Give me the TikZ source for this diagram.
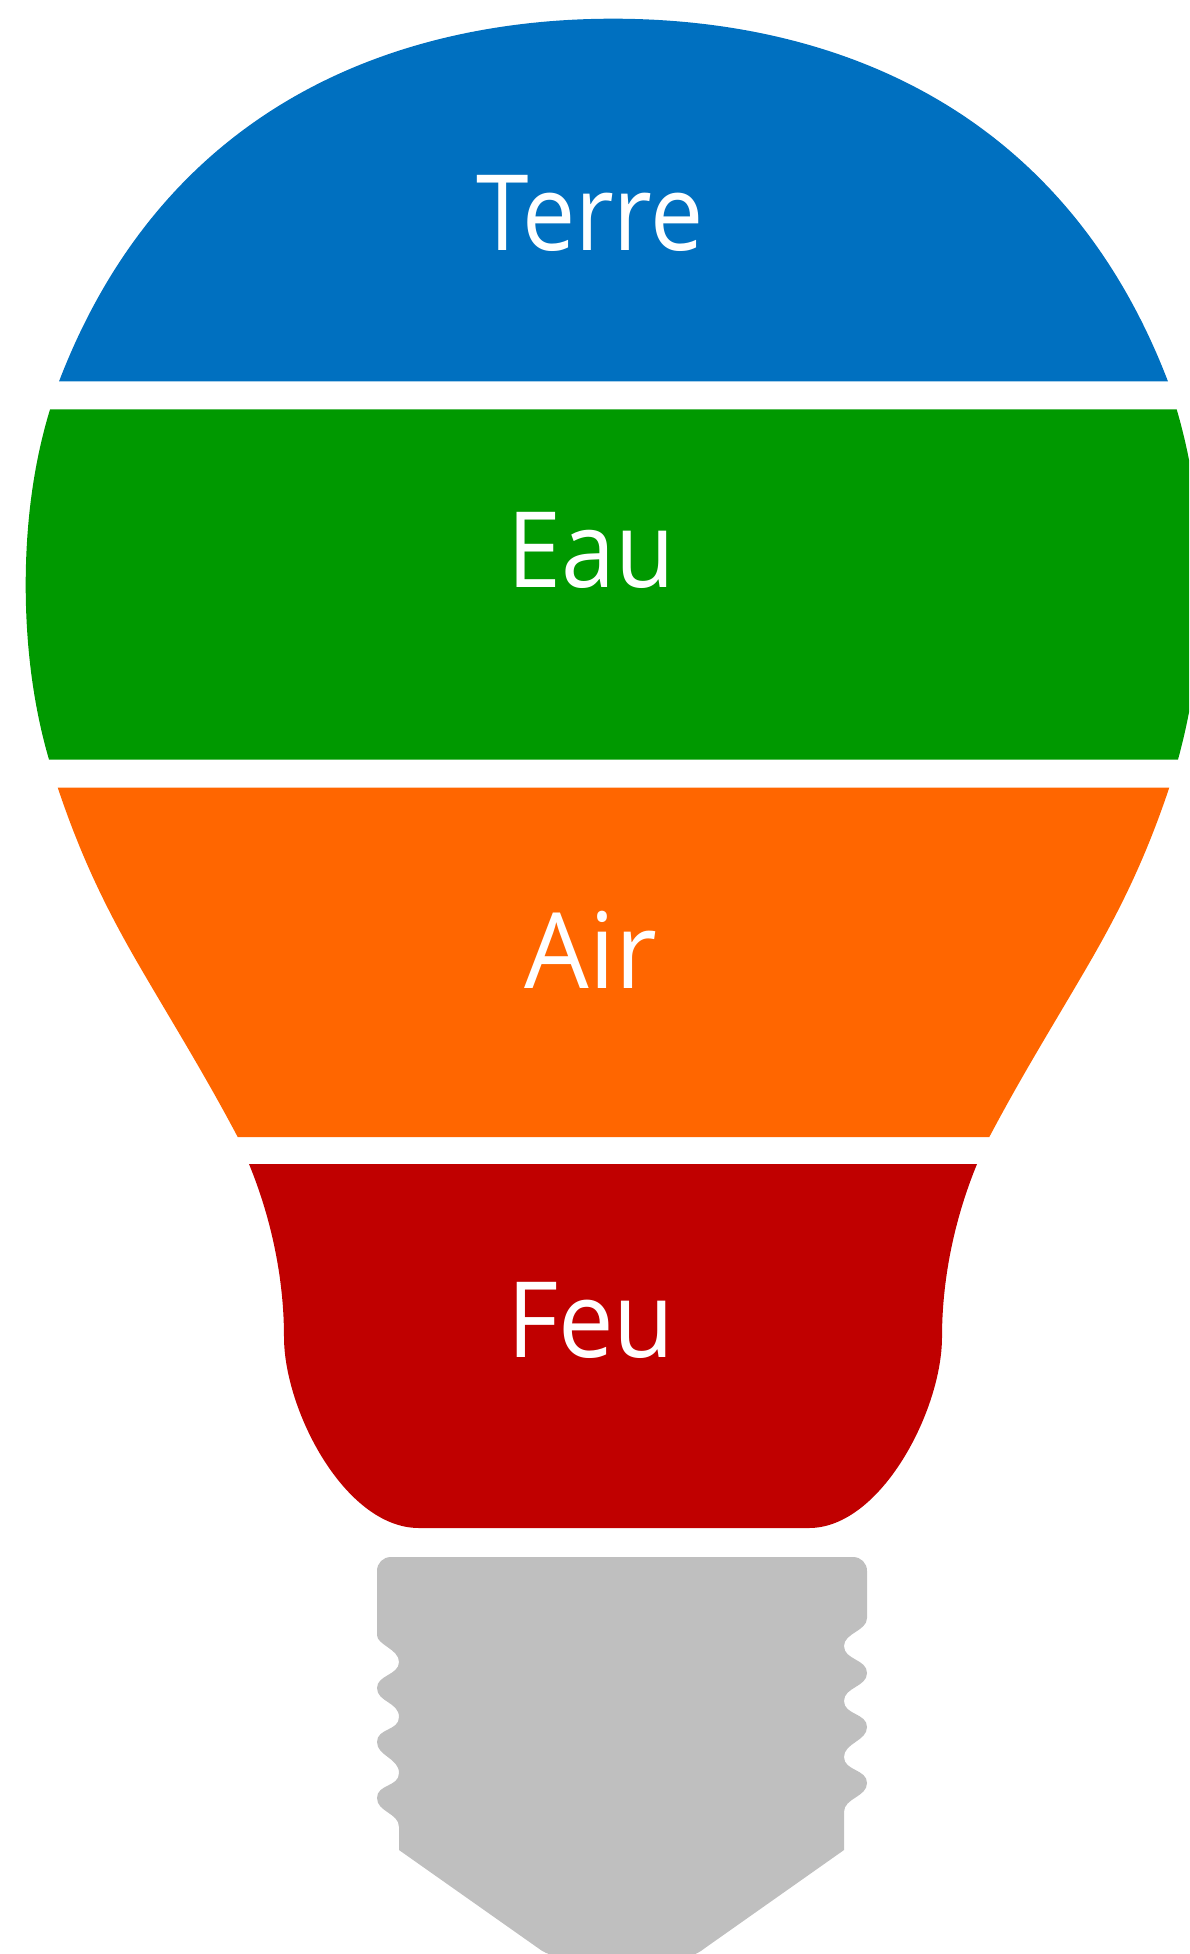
\documentclass[tikz,border=0pt]{standalone}
\usepackage{fontspec}
\setmainfont{Open Sans}
\definecolor{terreblue}{HTML}{0070C0}
\definecolor{eaugreen}{HTML}{009900}
\definecolor{airorange}{HTML}{FF6600}
\definecolor{feured}{HTML}{C00000}
\definecolor{socketgrey}{HTML}{BFBFBF}
\tikzset{
  part/.style={draw=none},
  partlabel/.style={anchor=base,inner sep=0pt,text=white,font=\fontsize{79}{79}\selectfont},
}

\begin{document}
\begin{tikzpicture}[x=0.75pt,y=0.75pt,yscale=-1,xscale=1]
\useasboundingbox (0,0) rectangle (1189,1954);
\clip (0,0) rectangle (1189,1954);

%Shape: Terre
\fill [part,terreblue] (59,381.5) .. controls (170,92) and (415,18.7) .. (613,18.7) .. controls (812,18.7) and (1057,92) .. (1168,381.5) -- cycle ;
%Shape: Eau
\fill [part,eaugreen] (50,409.5) .. controls (33,465) and (25.7,525) .. (25.7,585) .. controls (25.7,645) and (33,705) .. (49,759.5) -- (1178,759.5) .. controls (1193,705) and (1201,645) .. (1201,585) .. controls (1201,525) and (1193,465) .. (1176.7,409.5) -- cycle ;
%Shape: Air
\fill [part,airorange] (57.7,787.5) .. controls (82,860) and (108,912) .. (140,967) .. controls (172,1022) and (205,1075) .. (237.7,1137) -- (989.3,1137) .. controls (1022,1075) and (1055,1022) .. (1087,967) .. controls (1119,912) and (1145,860) .. (1169.3,787.5) -- cycle ;
%Shape: Feu
\fill [part,feured] (249,1164) .. controls (272,1220) and (284,1280) .. (284,1337) .. controls (284,1410) and (345,1528) .. (419,1528) -- (809,1528) .. controls (881,1528) and (942,1410) .. (942,1337) .. controls (942,1280) and (954,1220) .. (977,1164) -- cycle ;
%Shape: Socket
\fill [part,socketgrey] (377,1571) .. controls (377,1563) and (383,1557) .. (391,1557) -- (853,1557) .. controls (861,1557) and (867,1563) .. (867,1571)
  -- (867,1618) .. controls (867,1631) and (844,1633) .. (844,1646) .. controls (844,1660) and (867,1659) .. (867,1673) .. controls (867,1687) and (844,1687) .. (844,1701) .. controls (844,1715) and (867,1713) .. (867,1727) .. controls (867,1741) and (844,1743) .. (844,1757) .. controls (844,1771) and (867,1769) .. (867,1783) .. controls (867,1797) and (844,1798) .. (844,1812)
  -- (844,1850) -- (705,1948) .. controls (700,1952) and (696,1954) .. (690,1956) -- (555,1956) .. controls (548,1954) and (543,1952) .. (538,1948) -- (399,1850)
  -- (399,1827) .. controls (399,1813) and (377,1812) .. (377,1798) .. controls (377,1784) and (399,1787) .. (399,1773) .. controls (399,1758) and (377,1756) .. (377,1742) .. controls (377,1728) and (399,1731) .. (399,1717) .. controls (399,1702) and (377,1702) .. (377,1688) .. controls (377,1675) and (399,1675) .. (399,1662) .. controls (399,1649) and (377,1645) .. (377,1635) -- cycle ;

% Text Node
\node [partlabel,xscale=0.90] (terre) at (590,250.5) {Terre};
% Text Node
\node [partlabel,xscale=0.92] (eau) at (591,587) {Eau};
% Text Node
\node [partlabel,xscale=0.97] (air) at (591,988) {Air};
% Text Node
\node [partlabel,xscale=0.94] (feu) at (591,1357) {Feu};

\end{tikzpicture}
\end{document}
